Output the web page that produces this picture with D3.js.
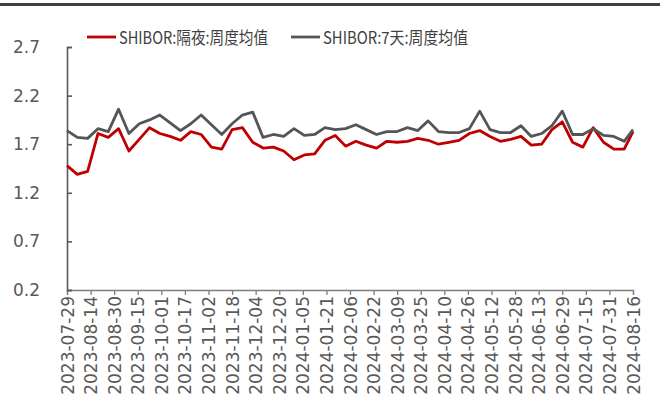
<!DOCTYPE html>
<html>
<head>
<meta charset="utf-8">
<script src="https://cdn.jsdelivr.net/npm/d3@7"></script>
<style>
  body { margin: 0; background: #fff; }
  svg { display: block; font-family: "DejaVu Sans", sans-serif; }
</style>
</head>
<body>
<div class="chart"></div>
<script>
// weekly dates
const dates = ("2023-07-29,2023-08-05,2023-08-12,2023-08-19,2023-08-26,2023-09-02,2023-09-09,2023-09-16," +
  "2023-09-23,2023-09-30,2023-10-07,2023-10-14,2023-10-21,2023-10-28,2023-11-04,2023-11-11,2023-11-18," +
  "2023-11-25,2023-12-02,2023-12-09,2023-12-16,2023-12-23,2023-12-30,2024-01-06,2024-01-13,2024-01-20," +
  "2024-01-27,2024-02-03,2024-02-10,2024-02-17,2024-02-24,2024-03-02,2024-03-09,2024-03-16,2024-03-23," +
  "2024-03-30,2024-04-06,2024-04-13,2024-04-20,2024-04-27,2024-05-04,2024-05-11,2024-05-18,2024-05-25," +
  "2024-06-01,2024-06-08,2024-06-15,2024-06-22,2024-06-29,2024-07-06,2024-07-13,2024-07-20,2024-07-27," +
  "2024-08-03,2024-08-10,2024-08-16").split(",");

const overnight = [1.48,1.39,1.42,1.81,1.77,1.86,1.63,1.75,1.87,1.81,1.78,1.74,1.83,1.80,1.67,1.65,
  1.85,1.87,1.72,1.66,1.67,1.63,1.54,1.59,1.60,1.74,1.79,1.68,1.73,1.69,1.66,1.73,1.72,1.73,1.76,1.74,
  1.70,1.72,1.74,1.81,1.84,1.78,1.73,1.75,1.78,1.69,1.70,1.85,1.93,1.72,1.67,1.87,1.72,1.65,1.65,1.83];

const sevenDay = [1.84,1.77,1.76,1.86,1.83,2.06,1.81,1.91,1.95,2.00,1.92,1.84,1.91,2.00,1.90,1.80,
  1.91,2.00,2.03,1.77,1.80,1.78,1.86,1.79,1.80,1.87,1.85,1.86,1.90,1.85,1.80,1.83,1.83,1.87,1.84,1.94,
  1.83,1.82,1.82,1.86,2.04,1.85,1.82,1.82,1.89,1.78,1.81,1.89,2.04,1.80,1.80,1.86,1.79,1.78,1.73,1.85];

const tickDates = ["2023-07-29","2023-08-14","2023-08-30","2023-09-15","2023-10-01","2023-10-17",
  "2023-11-02","2023-11-18","2023-12-04","2023-12-20","2024-01-05","2024-01-21","2024-02-06",
  "2024-02-22","2024-03-09","2024-03-25","2024-04-10","2024-04-26","2024-05-12","2024-05-28",
  "2024-06-13","2024-06-29","2024-07-15","2024-07-31","2024-08-16"];
const yTicks = [0.2, 0.7, 1.2, 1.7, 2.2, 2.7];

const seriesNames = ["SHIBOR:隔夜:周度均值", "SHIBOR:7天:周度均值"];
const colors = ["#C00000", "#555555"];

const width = 660, height = 407;
const parse = d3.timeParse("%Y-%m-%d");

const svg = d3.select(".chart").append("svg")
  .attr("width", width)
  .attr("height", height);

const x = d3.scaleTime()
  .domain([parse(tickDates[0]), parse(tickDates[tickDates.length - 1])])
  .range([67, 633]);

const y = d3.scaleLinear()
  .domain([0.2, 2.7])
  .range([290, 47]);

// top border
svg.append("rect")
  .attr("x", 0).attr("y", 3)
  .attr("width", width).attr("height", 3)
  .attr("fill", "#404040");

// x axis
const xAxis = svg.append("g")
  .attr("transform", "translate(0,290)")
  .call(d3.axisBottom(x)
    .tickValues(tickDates.map(parse))
    .tickFormat(d3.timeFormat("%Y-%m-%d"))
    .tickSize(5)
    .tickPadding(4));
xAxis.select(".domain").attr("stroke", "#7f7f7f").attr("stroke-width", 1.3);
xAxis.selectAll(".tick line").attr("stroke", "#7f7f7f").attr("stroke-width", 1.3);
xAxis.selectAll(".tick text")
  .attr("font-size", 17)
  .attr("fill", "#595959")
  .attr("font-family", "DejaVu Sans")
  .attr("transform", "rotate(-90)")
  .attr("text-anchor", "end")
  .attr("dx", "-6")
  .attr("dy", "0")
  .attr("x", 0)
  .attr("y", 0)
  .attr("dominant-baseline", "central");

// y axis
const yAxis = svg.append("g")
  .attr("transform", "translate(67,0)")
  .call(d3.axisLeft(y)
    .tickValues(yTicks)
    .tickFormat(d3.format(".1f"))
    .tickSize(-5)
    .tickPadding(27));
yAxis.select(".domain").attr("stroke", "#595959").attr("stroke-width", 1.6);
yAxis.selectAll(".tick line").attr("stroke", "#595959").attr("stroke-width", 1.6);
yAxis.selectAll(".tick text")
  .attr("font-size", 17)
  .attr("fill", "#595959")
  .attr("font-family", "DejaVu Sans");

// lines
const line = d3.line()
  .x((d, i) => x(parse(dates[i])))
  .y(d => y(d));

[overnight, sevenDay].forEach((s, k) => {
  svg.append("path")
    .datum(s)
    .attr("fill", "none")
    .attr("stroke", colors[k])
    .attr("stroke-width", 2.8)
    .attr("stroke-linejoin", "round")
    .attr("d", line);
});

// legend
const legendX = [87, 291];
const legendW = [149, 145];
seriesNames.forEach((name, k) => {
  const g = svg.append("g").attr("transform", `translate(${legendX[k]},37)`);
  g.append("line")
    .attr("x1", 0).attr("x2", 29)
    .attr("stroke", colors[k]).attr("stroke-width", 2.8);
  g.append("text")
    .attr("x", 32).attr("y", 6.5)
    .attr("font-size", 17)
    .attr("fill", "#404040")
    .attr("font-family", "'Noto Sans CJK SC', 'DejaVu Sans', sans-serif")
    .attr("textLength", legendW[k])
    .attr("lengthAdjust", "spacingAndGlyphs")
    .text(name);
});
</script>
</body>
</html>
